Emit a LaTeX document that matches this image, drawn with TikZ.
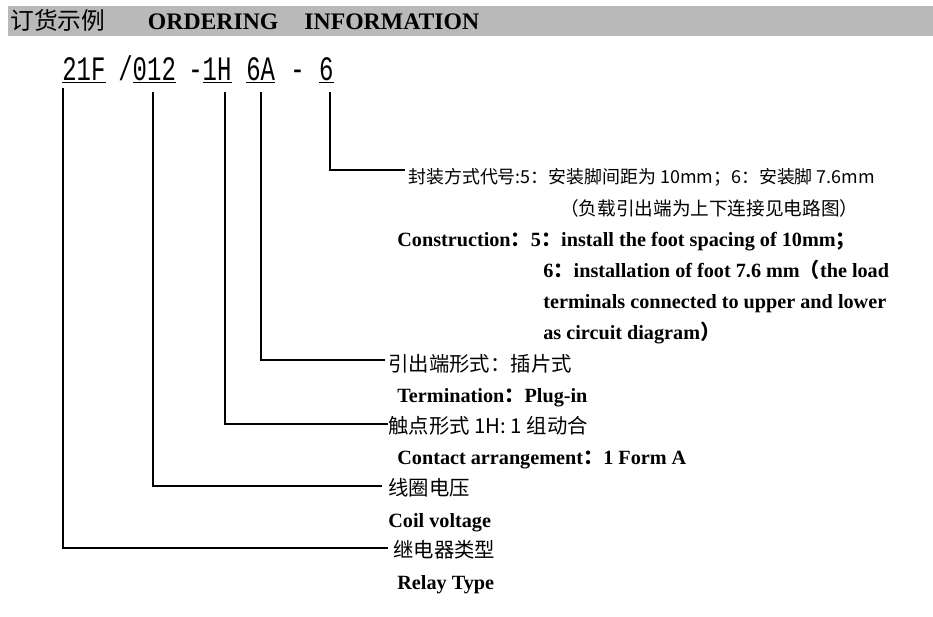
\documentclass[tikz,border=0pt]{standalone}
\usepackage{fontspec}
\setmainfont{Liberation Serif}
\setmonofont[FakeStretch=0.7]{Liberation Mono}
\newfontfamily\cjk{Noto Sans CJK SC}
\newcommand\fc{{\cjk\char"FF1A}}
\newcommand\fs{{\cjk\char"FF1B}}
\newcommand\fl{{\cjk\char"FF08}}
\newcommand\fr{{\cjk\char"FF09}}
\begin{document}
\begin{tikzpicture}[x=0.02cm,y=-0.02cm,
    lead/.style={line width=0.7pt},
    cn/.style={anchor=base west,inner sep=0pt,font=\cjk\fontsize{11.6}{14}\selectfont},
    en/.style={anchor=base west,inner sep=0pt,font=\bfseries\fontsize{11.5}{14}\selectfont},
    code/.style={anchor=base west,inner sep=0pt,font=\ttfamily\fontsize{19.5}{22}\selectfont}]
    \useasboundingbox (0,0) rectangle (933,616);
    \fill[gray!55] (8,6) rectangle (933,36);
    \node[anchor=base west,inner sep=0pt,font=\fontsize{13.5}{15}\selectfont] (title) at (10,29)
        {{\cjk 订货示例}\hspace{1.8em}\textbf{ORDERING\hspace{1.1em}INFORMATION}};
    % order code
    \node[code] (c1) at (62,80) {\underline{21F}};
    \node[code] (c2) at (118,80) {/\underline{012}};
    \node[code] (c3) at (188,80) {-\underline{1H}};
    \node[code] (c4) at (246,80) {\underline{6A}};
    \node[code] (c5) at (290,80) {-\ \underline{6}};
    % leads
    \coordinate (t1) at (63,88);   \coordinate (k1) at (63,548);   \coordinate (e1) at (388,548);
    \coordinate (t2) at (153,92);  \coordinate (k2) at (153,486);  \coordinate (e2) at (382,486);
    \coordinate (t3) at (225,92);  \coordinate (k3) at (225,424);  \coordinate (e3) at (388,424);
    \coordinate (t4) at (261,92);  \coordinate (k4) at (261,360);  \coordinate (e4) at (385,360);
    \coordinate (t5) at (330,92);  \coordinate (k5) at (330,170);  \coordinate (e5) at (405,170);
    \foreach \i in {1,...,5}
        \draw[lead] (t\i) -- (k\i) -- (e\i);
    % texts
    \node[cn,font=\cjk\fontsize{10.2}{12}\selectfont] (d5a) at (408,183) {封装方式代号:5\fc 安装脚间距为 10mm\fs 6\fc 安装脚 7.6mm};
    \node[cn,font=\cjk\fontsize{10.6}{12}\selectfont] (d5b) at (560,215) {\fl 负载引出端为上下连接见电路图\fr};
    \node[en] (d5c) at (397,246) {Construction\fc 5\fc install the foot spacing of 10mm\fs};
    \node[en] (d5d) at (543,277) {6\fc installation of foot 7.6 mm\fl the load};
    \node[en] (d5e) at (543,308) {terminals connected to upper and lower};
    \node[en] (d5f) at (543,339) {as circuit diagram\fr};
    \node[cn] (d4a) at (388,371) {引出端形式\fc 插片式};
    \node[en] (d4b) at (397,402) {Termination\fc Plug-in};
    \node[cn] (d3a) at (388,433) {触点形式 1H:\ 1 组动合};
    \node[en] (d3b) at (397,464) {Contact arrangement\fc 1 Form A};
    \node[cn] (d2a) at (388,495) {线圈电压};
    \node[en] (d2b) at (388,527) {Coil voltage};
    \node[cn] (d1a) at (393,557) {继电器类型};
    \node[en] (d1b) at (397,589) {Relay Type};
\end{tikzpicture}
\end{document}
